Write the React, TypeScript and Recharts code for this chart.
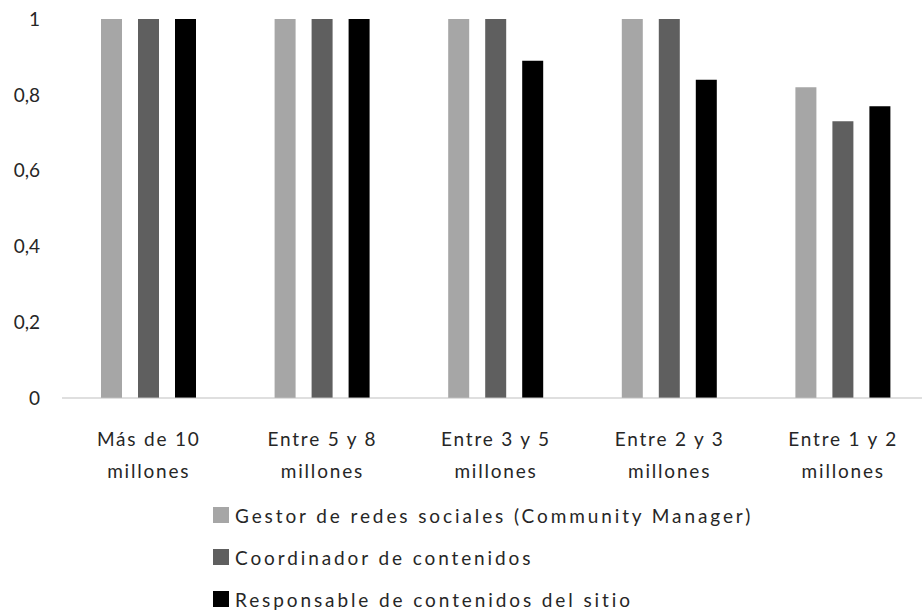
import { BarChart, Bar, XAxis, YAxis } from "recharts";

const CATEGORIES = [
  "Más de 10\nmillones",
  "Entre 5 y 8\nmillones",
  "Entre 3 y 5\nmillones",
  "Entre 2 y 3\nmillones",
  "Entre 1 y 2\nmillones",
];

const GESTOR = [1, 1, 1, 1, 0.82];
const COORDINADOR = [1, 1, 1, 1, 0.73];
const RESPONSABLE = [1, 1, 0.89, 0.84, 0.77];

const Y_TICKS = [0, 0.2, 0.4, 0.6, 0.8, 1];

const SERIES = [
  { key: "gestor", label: "Gestor de redes sociales (Community Manager)", color: "#A6A6A6" },
  { key: "coordinador", label: "Coordinador de contenidos", color: "#5F5F5F" },
  { key: "responsable", label: "Responsable de contenidos del sitio", color: "#000000" },
];

const FONT = "Lato, 'Open Sans', sans-serif";
const TEXT = "#262626";

const data = CATEGORIES.map((c, i) => ({
  name: c,
  gestor: GESTOR[i],
  coordinador: COORDINADOR[i],
  responsable: RESPONSABLE[i],
}));

function CategoryTick({ x, y, payload }: any) {
  const lines = String(payload.value).split("\n");
  return (
    <text
      x={x}
      y={y}
      textAnchor="middle"
      fill={TEXT}
      fontSize={19}
      fontFamily={FONT}
      letterSpacing={1.8}
    >
      {lines.map((l, i) => (
        <tspan key={i} x={x} dy={i === 0 ? 40 : 32}>
          {l}
        </tspan>
      ))}
    </text>
  );
}

export default function App() {
  return (
    <div
      style={{
        position: "absolute",
        left: 0,
        top: 0,
        width: 922,
        height: 612,
        overflow: "hidden",
        background: "#fff",
        fontFamily: FONT,
      }}
    >
      <BarChart
        width={940}
        height={612}
        data={data}
        margin={{ top: 19, right: 10, bottom: 0, left: 0 }}
        barSize={21}
        barGap={16}
      >
        <XAxis
          dataKey="name"
          axisLine={{ stroke: "#BFBFBF" }}
          tickLine={false}
          tick={<CategoryTick />}
          height={214}
          interval={0}
        />
        <YAxis
          domain={[0, 1]}
          ticks={Y_TICKS}
          width={62}
          axisLine={false}
          tickLine={false}
          tickSize={0}
          tickMargin={22}
          tick={{ fontSize: 19, fill: TEXT, fontFamily: FONT }}
          tickFormatter={(v: number) => String(v).replace(".", ",")}
        />
        {SERIES.map((s) => (
          <Bar key={s.key} dataKey={s.key} fill={s.color} isAnimationActive={false} />
        ))}
      </BarChart>

      {/* Legend */}
      <div style={{ position: "absolute", left: 213, top: 494 }}>
        {SERIES.map((s) => (
          <div
            key={s.key}
            style={{
              display: "flex",
              alignItems: "center",
              height: 42,
              fontSize: 19,
              color: TEXT,
              letterSpacing: 2.9,
              whiteSpace: "nowrap",
            }}
          >
            <span
              style={{
                display: "inline-block",
                width: 16,
                height: 16,
                background: s.color,
                marginRight: 6,
              }}
            />
            {s.label}
          </div>
        ))}
      </div>
    </div>
  );
}
